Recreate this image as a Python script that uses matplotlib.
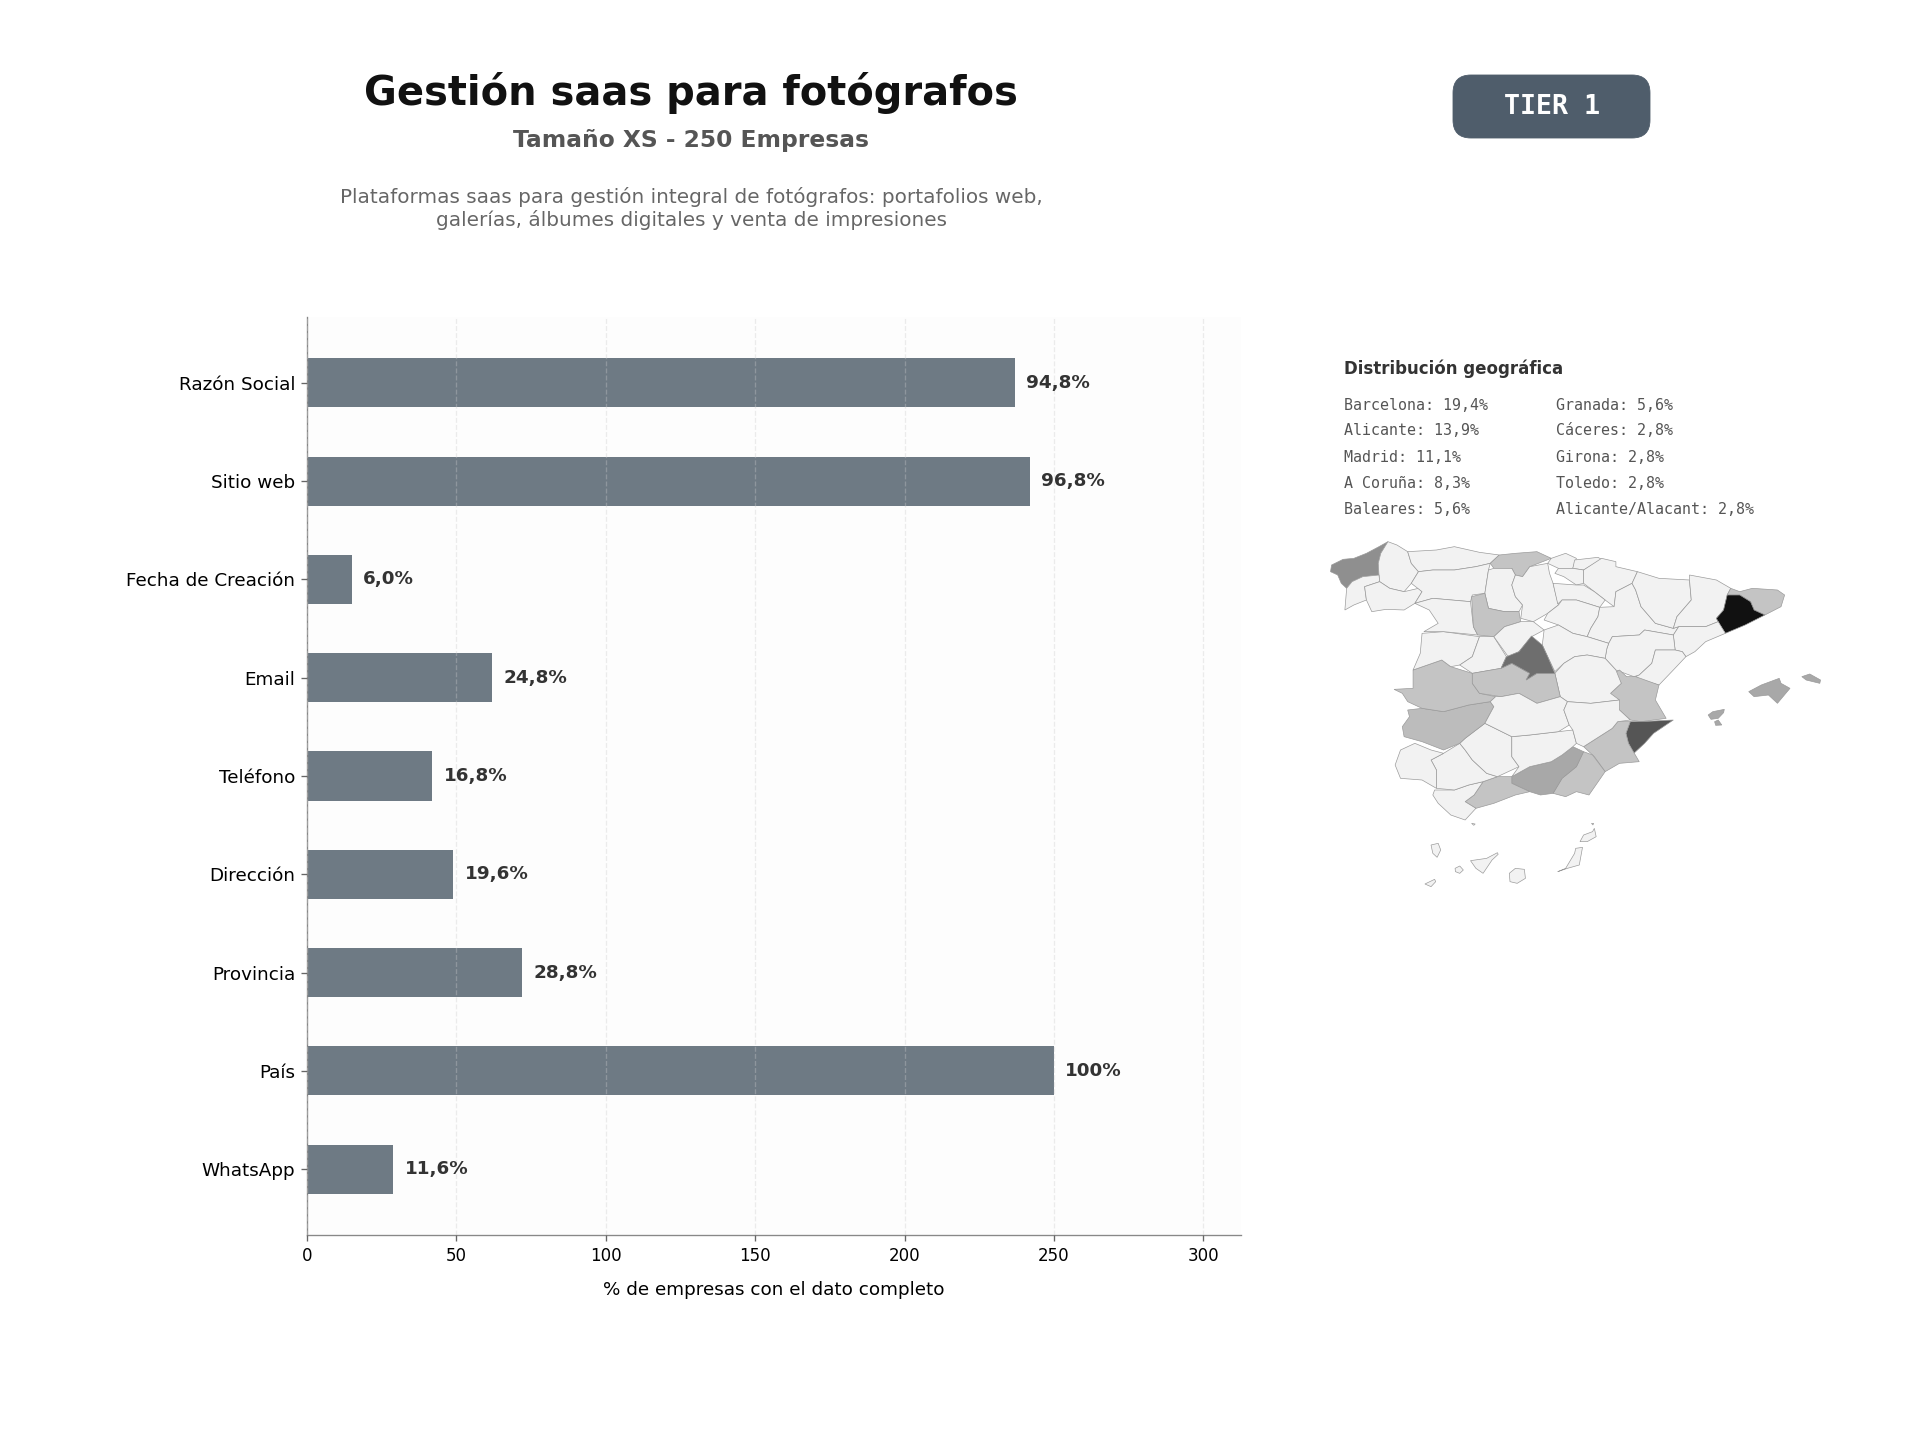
import matplotlib
matplotlib.use('Agg')
import matplotlib.pyplot as plt
from matplotlib.patches import FancyBboxPatch, Polygon

# Data for the bars
campos = ['Razón Social', 'Sitio web', 'Fecha de Creación', 'Email', 'Teléfono',
          'Dirección', 'Provincia', 'País', 'WhatsApp']
empresas = [237, 242, 15, 62, 42, 49, 72, 250, 29]
etiquetas = ['94,8%', '96,8%', '6,0%', '24,8%', '16,8%', '19,6%', '28,8%', '100%', '11,6%']
x_ticks = [0, 50, 100, 150, 200, 250, 300]

# Geographic list
geo_col1 = ['Barcelona: 19,4%', 'Alicante: 13,9%', 'Madrid: 11,1%', 'A Coruña: 8,3%', 'Baleares: 5,6%']
geo_col2 = ['Granada: 5,6%', 'Cáceres: 2,8%', 'Girona: 2,8%', 'Toledo: 2,8%', 'Alicante/Alacant: 2,8%']

# Share per province, only the ones with a darker fill
cuota = {'Barcelona': 19.4, 'Alicante': 13.9, 'Madrid': 11.1, 'A Coruña': 8.3,
         'Mallorca': 5.6, 'Menorca': 5.6, 'Ibiza': 5.6, 'Formentera': 5.6, 'Granada': 5.6,
         'Cáceres': 2.8, 'Girona': 2.8, 'Toledo': 2.8, 'Valencia': 2.8, 'Murcia': 2.8,
         'Almería': 2.8, 'Málaga': 2.8, 'Cantabria': 2.8, 'Valladolid': 2.8, 'Badajoz': 2.6}
gris = {19.4: '#111111', 13.9: '#555555', 11.1: '#6e6e6e', 8.3: '#8f8f8f',
        5.6: '#a8a8a8', 2.8: '#c4c4c4', 2.6: '#bcbcbc'}

# Province outlines (map units)
provincias = {
    'A Coruña': [(245,65),(220,80),(185,100),(150,115),(120,118),(88,135),(85,155),(105,165),(115,190),(130,205),(145,185),(175,170),(220,165),(218,130),(225,100)],
    'Lugo': [(245,65),(225,100),(218,130),(220,165),(222,185),(250,205),(290,215),(310,190),(330,155),(310,130),(300,95),(270,75)],
    'Pontevedra': [(130,205),(125,270),(150,255),(185,240),(180,200),(222,185),(220,165),(175,170),(145,185)],
    'Ourense': [(180,200),(185,240),(200,275),(240,268),(290,270),(320,250),(340,215),(330,205),(290,215),(250,205),(222,185)],
    'Asturias': [(300,95),(310,130),(330,155),(370,150),(430,150),(490,140),(530,130),(555,105),(500,97),(430,80),(380,90)],
    'León': [(330,155),(310,190),(340,215),(320,250),(370,235),(475,245),(480,225),(515,220),(525,150),(530,130),(490,140),(430,150),(370,150)],
    'Cantabria': [(530,130),(555,105),(600,100),(660,95),(700,115),(640,140),(620,170),(600,165),(590,145),(540,145)],
    'Palencia': [(525,150),(515,220),(525,265),(570,275),(610,275),(620,255),(600,230),(590,195),(600,165),(590,145),(540,145)],
    'Burgos': [(600,165),(590,195),(600,230),(620,255),(615,295),(650,305),(690,280),(720,255),(705,190),(695,160),(690,130),(640,140),(620,170)],
    'Vizcaya': [(700,115),(740,100),(770,115),(760,145),(720,145),(690,130)],
    'Guipúzcoa': [(765,120),(830,112),(840,118),(790,150),(760,145)],
    'Álava': [(720,145),(760,145),(790,150),(790,190),(770,195),(735,170),(710,160)],
    'Navarra': [(790,150),(840,115),(880,125),(880,140),(940,155),(925,190),(880,215),(875,260),(850,240),(820,215),(790,190)],
    'La Rioja': [(705,190),(770,195),(790,195),(820,215),(850,240),(835,262),(770,240),(730,240),(718,252)],
    'Soria': [(720,255),(730,240),(770,240),(835,262),(830,290),(810,325),(800,350),(760,340),(720,315),(680,300),(690,280)],
    'Zaragoza': [(875,260),(880,215),(925,190),(935,210),(950,260),(990,310),(1040,325),(1055,320),(1040,345),(960,330),(945,345),(870,350),(860,370),(800,350),(810,325),(830,290),(835,262)],
    'Huesca': [(925,190),(940,155),(1000,175),(1085,180),(1090,240),(1050,290),(1040,325),(990,310),(950,260),(935,210)],
    'Lleida': [(1085,180),(1085,165),(1160,180),(1200,205),(1190,225),(1180,270),(1160,295),(1165,305),(1130,320),(1055,320),(1040,325),(1050,290),(1090,240)],
    'Girona': [(1200,205),(1225,215),(1260,205),(1330,210),(1350,225),(1340,260),(1295,285),(1265,270),(1255,245),(1225,225),(1190,225)],
    'Barcelona': [(1190,225),(1225,225),(1255,245),(1265,270),(1295,285),(1240,315),(1185,340),(1170,315),(1160,295),(1180,270)],
    'Tarragona': [(1055,320),(1130,320),(1165,305),(1185,340),(1130,365),(1100,395),(1075,410),(1065,395),(1045,390),(1040,345)],
    'Teruel': [(860,370),(870,350),(945,345),(960,330),(1040,345),(1045,390),(990,390),(980,430),(945,465),(930,470),(880,450),(850,415),(855,385)],
    'Castellón': [(1045,390),(1065,395),(1075,410),(1040,450),(1000,495),(950,480),(935,470),(945,465),(980,430),(990,390)],
    'Valencia': [(875,460),(890,450),(910,470),(935,470),(1000,495),(990,540),(1020,595),(950,605),(920,600),(890,570),(865,520),(895,490)],
    'Alicante': [(920,605),(950,605),(1040,600),(985,640),(960,670),(930,700),(915,670),(908,640)],
    'Murcia': [(870,625),(885,605),(920,605),(908,640),(915,670),(945,725),(890,730),(850,755),(820,710),(790,680)],
    'Almería': [(790,695),(815,705),(850,755),(805,825),(770,815),(740,830),(705,820),(730,775),(770,740)],
    'Granada': [(760,680),(790,695),(770,740),(730,775),(705,820),(670,825),(640,815),(590,790),(590,770),(640,740),(700,725),(730,705)],
    'Málaga': [(510,785),(550,770),(590,770),(590,790),(640,815),(600,825),(540,850),(490,865),(460,845),(485,825)],
    'Cádiz': [(375,810),(430,810),(470,795),(510,785),(485,825),(460,845),(490,865),(460,900),(420,885),(385,850),(370,825)],
    'Sevilla': [(400,700),(445,670),(460,690),(480,720),(520,760),(550,770),(510,785),(470,795),(430,810),(380,805),(380,750),(365,720)],
    'Huelva': [(280,690),(320,670),(365,690),(400,700),(365,720),(380,750),(380,805),(340,780),(280,775),(265,735)],
    'Córdoba': [(460,655),(515,610),(590,650),(590,710),(610,740),(550,770),(520,760),(480,720),(460,690),(445,670)],
    'Jaén': [(590,650),(640,645),(720,635),(760,630),(770,670),(760,680),(730,705),(700,725),(640,740),(590,770),(610,740),(590,710)],
    'Badajoz': [(300,570),(340,565),(400,575),(470,555),(530,545),(540,560),(515,610),(460,655),(445,670),(400,690),(340,665),(290,650),(285,620),(305,590)],
    'Cáceres': [(262,508),(315,505),(315,450),(395,420),(420,440),(480,460),(480,490),(500,520),(545,530),(530,545),(470,555),(400,575),(340,565),(300,545),(285,520)],
    'Salamanca': [(340,340),(400,335),(500,350),(480,410),(445,435),(420,440),(395,420),(315,450),(335,400)],
    'Zamora': [(320,250),(370,235),(475,245),(483,320),(495,345),(400,335),(345,335),(385,310),(360,270)],
    'Valladolid': [(478,230),(515,220),(525,265),(570,275),(610,275),(615,305),(570,320),(540,350),(495,345),(483,320)],
    'Ávila': [(500,350),(540,350),(575,410),(560,445),(480,460),(445,435),(480,410)],
    'Segovia': [(540,350),(570,320),(615,305),(650,305),(680,330),(645,350),(610,395),(580,410)],
    'Guadalajara': [(680,330),(720,315),(760,340),(800,350),(860,370),(855,385),(850,415),(800,405),(765,410),(735,430),(710,455),(690,410),(675,375)],
    'Cuenca': [(735,430),(765,410),(800,405),(850,415),(880,450),(895,490),(865,520),(890,540),(810,550),(745,545),(725,530),(710,460)],
    'Toledo': [(480,460),(560,445),(590,430),(640,460),(630,480),(660,460),(710,460),(725,530),(660,550),(610,520),(560,530),(500,520),(480,490)],
    'Madrid': [(645,348),(675,375),(690,410),(710,460),(660,460),(630,480),(640,460),(590,430),(560,445),(575,410),(610,395)],
    'Ciudad Real': [(545,530),(560,530),(610,520),(660,550),(725,530),(745,545),(735,570),(750,615),(720,635),(640,645),(590,650),(515,610),(540,560),(530,545)],
    'Albacete': [(745,545),(810,550),(890,540),(890,570),(920,600),(885,605),(870,625),(790,680),(770,670),(760,630),(750,615),(735,570)],
    'Mallorca': [(1250,515),(1285,495),(1335,475),(1340,490),(1365,505),(1330,550),(1305,525),(1265,530)],
    'Menorca': [(1398,470),(1420,462),(1450,480),(1448,490),(1410,480)],
    'Ibiza': [(1137,585),(1150,575),(1182,568),(1180,578),(1165,595),(1145,598)],
    'Formentera': [(1155,605),(1165,600),(1175,615),(1158,616)],
    'La Palma': [(365,975),(385,970),(392,990),(382,1012),(370,1000)],
    'El Hierro': [(348,1092),(375,1078),(378,1085),(365,1100)],
    'La Gomera': [(432,1045),(445,1038),(455,1050),(445,1060),(433,1055)],
    'Tenerife': [(475,1022),(520,1015),(550,998),(552,1003),(535,1020),(510,1060),(490,1045)],
    'Gran Canaria': [(583,1060),(600,1045),(625,1048),(628,1075),(605,1090),(585,1085)],
    'Fuerteventura': [(718,1055),(740,1045),(765,1000),(768,985),(787,982),(778,1035),(745,1045)],
    'Lanzarote': [(780,965),(790,945),(815,935),(820,925),(825,950),(800,965)],
    'Ceuta': [(478,910),(488,912),(484,916)],
    'Melilla': [(812,910),(818,910),(816,915)],
}

W, H = 1920, 1440


def fx(x):
    return x / W


def fy(y):
    return 1 - y / H


fig = plt.figure(figsize=(16, 12), dpi=120, facecolor='white')

# Overlay in pixel coordinates, just for the badge
capa = fig.add_axes([0, 0, 1, 1])
capa.set_xlim(0, W)
capa.set_ylim(H, 0)
capa.axis('off')
capa.add_patch(FancyBboxPatch((1453, 75), 197, 63, boxstyle='round,pad=0,rounding_size=18',
                              facecolor='#4f5d6b', edgecolor='#4f5d6b', lw=0.5))

# Header
fig.text(fx(691), fy(93), 'Gestión saas para fotógrafos', ha='center', va='center',
         fontsize=24, fontweight='bold', color='#111111')
fig.text(fx(691), fy(141), 'Tamaño XS - 250 Empresas', ha='center', va='center',
         fontsize=14, fontweight='bold', color='#555555')
fig.text(fx(691), fy(208.5), 'Plataformas saas para gestión integral de fotógrafos: portafolios web,\ngalerías, álbumes digitales y venta de impresiones',
         ha='center', va='center', fontsize=12, color='#666666', linespacing=1.15)
fig.text(fx(1552), fy(106.5), 'TIER 1', ha='center', va='center', fontsize=16,
         fontweight='bold', family='DejaVu Sans Mono', color='white')

# Bars
ax = fig.add_axes([fx(306.8), fy(1235), 934 / W, 918 / H])
ax.set_facecolor('#fdfdfd')
y_pos = list(range(len(campos)))
ax.barh(y_pos, empresas, height=0.5, color='#6e7a84', zorder=2)
for y, v, t in zip(y_pos, empresas, etiquetas):
    ax.text(v + 3.75, y, t, va='center', ha='left', fontsize=11, fontweight='bold', color='#333333', zorder=3)
ax.set_yticks(y_pos)
ax.set_yticklabels(campos, fontsize=11)
ax.set_xticks(x_ticks)
ax.tick_params(axis='x', labelsize=10, color='#666666')
ax.tick_params(axis='y', color='#666666')
ax.set_xlim(0, 312.5)
ax.set_ylim(8.67, -0.67)
ax.set_xlabel('% de empresas con el dato completo', fontsize=11, labelpad=10)
ax.grid(True, axis='x', linestyle='--', color='#cccccc', alpha=0.35, linewidth=0.8, zorder=3)
ax.set_axisbelow(False)
for lado in ['top', 'right']:
    ax.spines[lado].set_visible(False)
for lado in ['left', 'bottom']:
    ax.spines[lado].set_color('#888888')

# Geographic text
fig.text(fx(1343.5), fy(369), 'Distribución geográfica', ha='left', va='center', fontsize=10,
         fontweight='bold', color='#333333')
filas_y = [405, 431, 457, 483, 509]
for fila, a, b in zip(filas_y, geo_col1, geo_col2):
    fig.text(fx(1343.5), fy(fila), a, ha='left', va='center', fontsize=9, family='DejaVu Sans Mono', color='#555555')
    fig.text(fx(1555.5), fy(fila), b, ha='left', va='center', fontsize=9, family='DejaVu Sans Mono', color='#555555')

# Map
mapa = fig.add_axes([fx(1300), fy(920), 560 / W, 400 / H])
mapa.set_xlim(0, 1560)
mapa.set_ylim(1200, 0)
mapa.axis('off')
for nombre, puntos in provincias.items():
    color = gris.get(cuota.get(nombre), '#f2f2f2')
    mapa.add_patch(Polygon(puntos, closed=True, facecolor=color, edgecolor='#999999', linewidth=0.4))

fig.savefig('out.png', dpi=120)
